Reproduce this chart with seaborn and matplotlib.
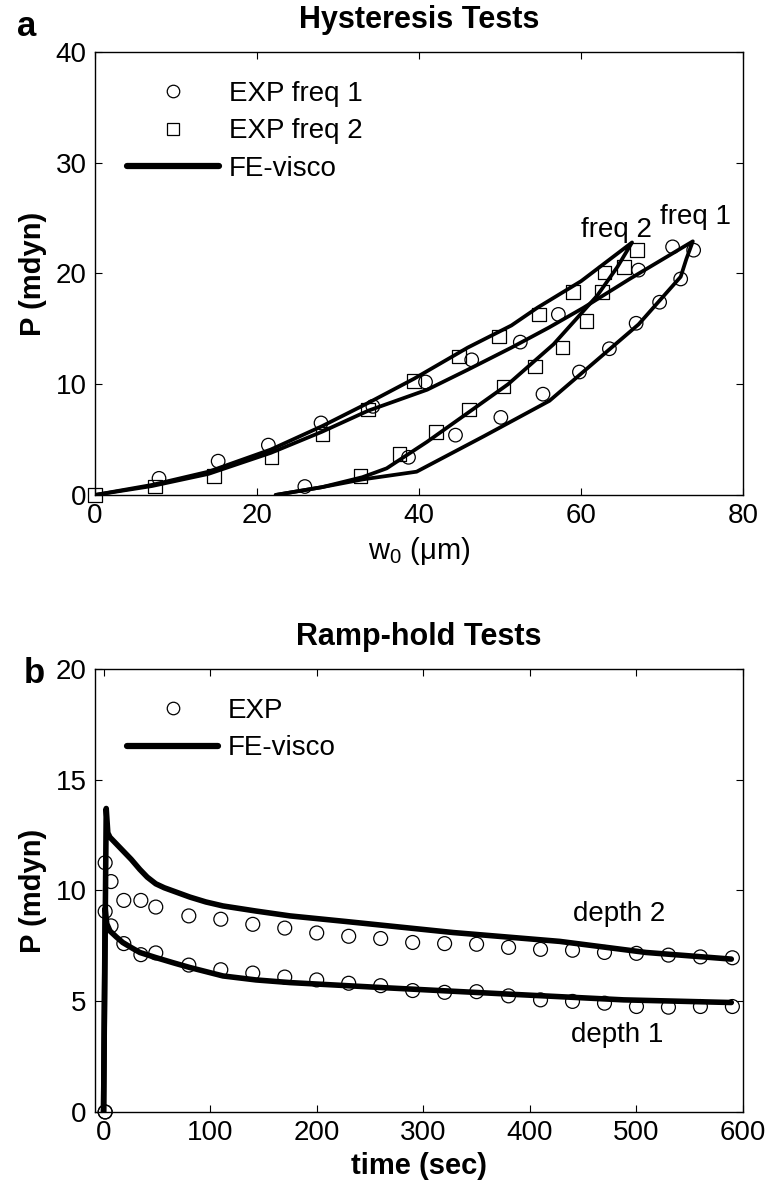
import matplotlib
matplotlib.use('Agg')
import matplotlib.pyplot as plt
import seaborn as sns
from matplotlib.lines import Line2D

# ---- hysteresis data (w0 in um, P in mdyn) ----
freq1_w = [7.9, 15.2, 21.4, 27.9, 34.3, 40.8, 46.5, 52.5, 57.2, 67.1, 71.3, 73.9,
           72.3, 69.7, 66.8, 63.5, 59.8, 55.3, 50.1, 44.5, 38.7, 25.9]
freq1_P = [1.5, 3.05, 4.5, 6.5, 8.0, 10.2, 12.2, 13.8, 16.3, 20.3, 22.4, 22.1,
           19.5, 17.4, 15.5, 13.2, 11.1, 9.1, 7.0, 5.4, 3.4, 0.76]
freq2_w = [0, 7.4, 14.7, 21.8, 28.1, 33.7, 39.4, 44.9, 49.9, 54.8, 59.0, 62.9, 66.9,
           65.3, 62.6, 60.7, 57.7, 54.3, 50.4, 46.2, 42.1, 37.6, 32.8]
freq2_P = [0, 0.76, 1.7, 3.4, 5.5, 7.7, 10.3, 12.5, 14.3, 16.3, 18.3, 20.1, 22.1,
           20.6, 18.3, 15.7, 13.3, 11.6, 9.8, 7.7, 5.7, 3.7, 1.7]

# FE-visco loops
fe1_w = [0, 7, 14, 21.7, 28, 33.7, 41, 46, 51.4, 56, 60.3, 66, 73.8,
         73.0, 72.3, 70, 67.1, 62, 56.1, 48, 39.7, 33, 28, 22.3]
fe1_P = [0, 0.8, 1.9, 3.8, 5.7, 7.6, 9.5, 11.3, 13.3, 15.1, 16.9, 19.5, 22.9,
         21.3, 19.7, 17.8, 15.4, 12.2, 8.5, 5.3, 2.1, 1.4, 0.7, 0]
fe2_w = [0, 7, 14, 21.7, 28, 33.7, 39.4, 46, 51.4, 54.6, 60, 66.3,
         64.5, 62, 56.6, 51, 46.2, 41, 36, 33, 28, 22.3]
fe2_P = [0, 0.9, 2.1, 4.1, 6.2, 8.3, 10.5, 13.3, 15.3, 16.9, 19.3, 22.8,
         20.6, 18.0, 13.6, 10.0, 7.5, 4.8, 2.4, 1.6, 0.7, 0]

# ---- ramp-hold data (time in sec, P in mdyn) ----
exp_t = [1.5, 1.5, 7, 19, 35, 49, 80, 110, 140, 170, 200, 230, 260, 290, 320, 350,
         380, 410, 440, 470, 500, 530, 560, 590]
exp2_P = [0, 11.25, 10.4, 9.55, 9.55, 9.25, 8.85, 8.7, 8.47, 8.3, 8.08, 7.93, 7.83,
          7.65, 7.6, 7.57, 7.43, 7.34, 7.3, 7.2, 7.16, 7.08, 7.0, 6.96]
exp1_P = [0, 9.05, 8.4, 7.6, 7.1, 7.18, 6.63, 6.42, 6.27, 6.09, 5.96, 5.81, 5.7,
          5.48, 5.4, 5.43, 5.24, 5.06, 4.99, 4.91, 4.76, 4.73, 4.76, 4.76]

fe_d2_t = [0, 2.5, 4, 6, 12, 18, 26, 34, 41, 49, 57, 65, 81, 96, 112, 143, 175,
           227, 328, 428, 509, 589]
fe_d2_P = [0, 13.7, 12.6, 12.4, 12.1, 11.8, 11.4, 10.95, 10.6, 10.3, 10.12, 9.98,
           9.7, 9.48, 9.3, 9.07, 8.85, 8.6, 8.1, 7.7, 7.2, 6.9]
fe_d1_t = [0, 1.5, 3, 6, 12, 18, 26, 34, 49, 65, 81, 112, 143, 175, 267, 388, 488, 589]
fe_d1_P = [0, 9.2, 8.5, 8.17, 7.9, 7.65, 7.42, 7.2, 6.97, 6.74, 6.52, 6.14, 5.96,
           5.84, 5.6, 5.3, 5.06, 4.94]

sns.set_style('ticks')
plt.rcParams['font.family'] = ['Liberation Sans', 'DejaVu Sans']
plt.rcParams['mathtext.default'] = 'regular'
plt.rcParams['text.color'] = 'black'
plt.rcParams['axes.labelcolor'] = 'black'
plt.rcParams['xtick.color'] = 'black'
plt.rcParams['ytick.color'] = 'black'

FS = 20
fig = plt.figure(figsize=(7.72, 11.99), dpi=100)
ax1 = fig.add_axes([0.1231, 0.5872, 0.8394, 0.3695])
ax2 = fig.add_axes([0.1231, 0.0726, 0.8394, 0.3695])

# panel a
for w, p in [(fe1_w, fe1_P), (fe2_w, fe2_P)]:
    sns.lineplot(x=w, y=p, sort=False, estimator=None, color='black', lw=2.7, ax=ax1)
sns.scatterplot(x=freq1_w, y=freq1_P, marker='o', s=95, color='black', facecolors='none',
                edgecolor='black', linewidth=0.9, clip_on=False, zorder=3, ax=ax1)
sns.scatterplot(x=freq2_w, y=freq2_P, marker='s', s=95, color='black', facecolors='none',
                edgecolor='black', linewidth=0.9, clip_on=False, zorder=3, ax=ax1)
ax1.text(64.4, 23.9, 'freq 2', ha='center', va='center', fontsize=FS)
ax1.text(74.1, 25.1, 'freq 1', ha='center', va='center', fontsize=FS)
ax1.set_xlim(0, 80)
ax1.set_ylim(0, 40)
ax1.set_xticks([0, 20, 40, 60, 80])
ax1.set_yticks([0, 10, 20, 30, 40])
ax1.set_xlabel(r'w$_0$ (μm)', fontsize=21, labelpad=4)
ax1.set_ylabel('P (mdyn)', fontsize=21, fontweight='bold', labelpad=6)
ax1.set_title('Hysteresis Tests', fontsize=22, fontweight='bold', pad=17)

h_o = Line2D([], [], ls='none', marker='o', ms=9, mfc='none', mec='black', mew=0.9)
h_s = Line2D([], [], ls='none', marker='s', ms=9, mfc='none', mec='black', mew=0.9)
h_l = Line2D([], [], color='black', lw=4.5)
ax1.legend([h_o, h_s, h_l], ['EXP freq 1', 'EXP freq 2', 'FE-visco'], loc='upper left',
           bbox_to_anchor=(0.05, 0.935), frameon=False, fontsize=FS, handlelength=3.3,
           handletextpad=0.35, labelspacing=0.42, borderpad=0, borderaxespad=0)

# panel b
for t, p in [(fe_d2_t, fe_d2_P), (fe_d1_t, fe_d1_P)]:
    sns.lineplot(x=t, y=p, sort=False, estimator=None, color='black', lw=4, ax=ax2)
for p in [exp2_P, exp1_P]:
    sns.scatterplot(x=exp_t, y=p, marker='o', s=100, color='black', facecolors='none',
                    edgecolor='black', linewidth=0.9, clip_on=False, zorder=3, ax=ax2)
ax2.text(484, 8.93, 'depth 2', ha='center', va='center', fontsize=FS)
ax2.text(482, 3.49, 'depth 1', ha='center', va='center', fontsize=FS)
ax2.set_xlim(-8, 600)
ax2.set_ylim(0, 20)
ax2.set_xticks([0, 100, 200, 300, 400, 500, 600])
ax2.set_yticks([0, 5, 10, 15, 20])
ax2.set_xlabel('time (sec)', fontsize=21, fontweight='bold', labelpad=4)
ax2.set_ylabel('P (mdyn)', fontsize=21, fontweight='bold', labelpad=6)
ax2.set_title('Ramp-hold Tests', fontsize=22, fontweight='bold', pad=17)

h_o2 = Line2D([], [], ls='none', marker='o', ms=9, mfc='none', mec='black', mew=0.9)
h_l2 = Line2D([], [], color='black', lw=4.5)
ax2.legend([h_o2, h_l2], ['EXP', 'FE-visco'], loc='upper left',
           bbox_to_anchor=(0.049, 0.935), frameon=False, fontsize=FS, handlelength=3.3,
           handletextpad=0.35, labelspacing=0.42, borderpad=0, borderaxespad=0)

for ax in (ax1, ax2):
    ax.tick_params(direction='in', top=True, right=True, length=5, width=0.8,
                   labelsize=FS, pad=6, colors='black')
    for sp in ax.spines.values():
        sp.set_visible(True)
        sp.set_linewidth(1.0)
        sp.set_color('black')

fig.text(0.034, 0.970, 'a', fontsize=25, fontweight='bold', ha='center', va='baseline')
fig.text(0.045, 0.4304, 'b', fontsize=25, fontweight='bold', ha='center', va='baseline')

fig.savefig('out.png', dpi=100)
